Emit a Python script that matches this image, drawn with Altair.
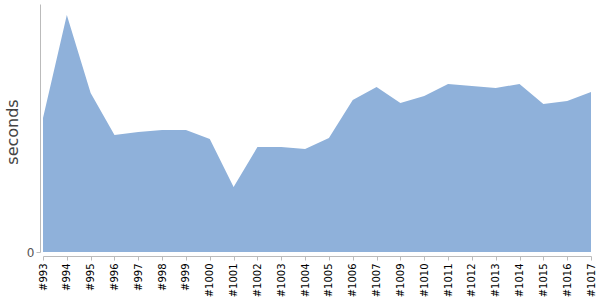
import altair as alt
import pandas as pd

builds = ["#993", "#994", "#995", "#996", "#997", "#998", "#999", "#1000", "#1001",
          "#1002", "#1003", "#1004", "#1005", "#1006", "#1007", "#1009", "#1010",
          "#1011", "#1012", "#1013", "#1014", "#1015", "#1016", "#1017"]
seconds = [134, 237, 159, 117, 120, 122, 122, 113, 65, 105, 105, 103, 114, 152,
           165, 149, 156, 168, 166, 164, 168, 148, 151, 160]

df = pd.DataFrame({"build": builds, "seconds": seconds})

chart = alt.Chart(df).mark_area(color="#8fb1da", opacity=1, line=False).encode(
    x=alt.X("build:N", sort=builds,
            scale=alt.Scale(type="point", padding=0),
            axis=alt.Axis(title=None, labelAngle=-90, labelFontSize=10,
                          labelColor="#000", labelFont="DejaVu Sans",
                          labelOverlap=False, labelPadding=3,
                          domainColor="#bbb", tickColor="#bbb", tickSize=4,
                          offset=4, grid=False)),
    y=alt.Y("seconds:Q", scale=alt.Scale(domain=[0, 248], nice=False, zero=True),
            axis=alt.Axis(title="seconds", values=[0], labelFontSize=12,
                          labelColor="#555", labelFont="DejaVu Sans",
                          titleFont="DejaVu Sans", titleFontSize=16,
                          titleFontWeight="normal", titleColor="#444",
                          titlePadding=6, titleY=127.5,
                          domainColor="#bbb", tickColor="#bbb",
                          tickSize=4, offset=3, grid=False)),
).properties(
    width=548, height=248,
    autosize=alt.AutoSizeParams(type="none"),
    padding={"left": 43, "top": 4, "right": 9, "bottom": 48},
).configure_view(stroke=None)

chart.save("out.html", embed_options={"renderer": "svg", "actions": False})
